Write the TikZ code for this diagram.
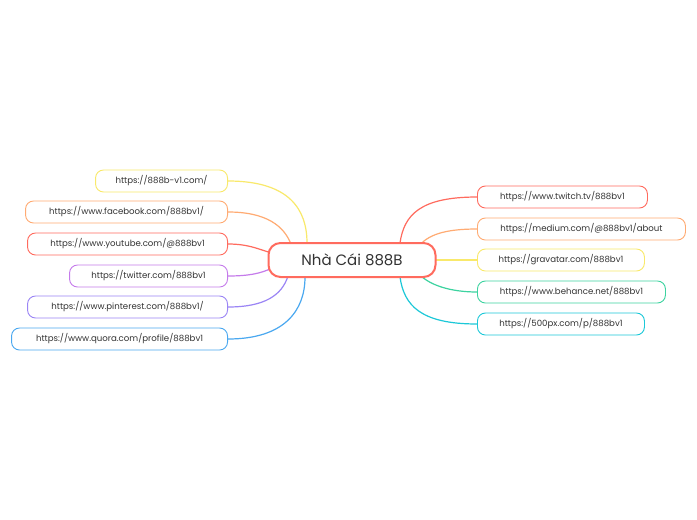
\documentclass[tikz,border=0pt]{standalone}
\usepackage{fontspec}
\setmainfont{Poppins}
\begin{document}
\begin{tikzpicture}[x=1pt,y=-1pt,
  leaf/.style={draw=#1,line width=0.9pt,rounded corners=8pt,minimum height=22pt,inner sep=0pt,font=\fontsize{8.6}{10}\selectfont,text=black!80},
  br/.style={draw=#1,line width=1.2pt},
  ]
\definecolor{cy}{HTML}{F9E96B}\definecolor{co}{HTML}{FFAB73}\definecolor{cr}{HTML}{FF6B5E}
\definecolor{cp}{HTML}{C57BEB}\definecolor{cv}{HTML}{9B85F5}\definecolor{cb}{HTML}{4AA8F0}
\definecolor{cg}{HTML}{3DD3A0}\definecolor{cc}{HTML}{1CC8D8}
\useasboundingbox[fill=white] (0,0) rectangle (697,520);
\coordinate (c) at (352,260);
\draw[br=cy] (228,181) .. controls (290,181) and (307,210) .. (307,243);
\draw[br=co] (228,212) .. controls (265,212) and (285,225) .. (292,247);
\draw[br=cr] (228,244) .. controls (250,244) and (260,250) .. (275,254);
\draw[br=cp] (228,276) .. controls (250,276) and (262,273) .. (272,268);
\draw[br=cv] (228,307) .. controls (265,307) and (282,295) .. (288,276);
\draw[br=cb] (228,339) .. controls (285,339) and (305,310) .. (305,277);
\draw[br=cr] (477,197) .. controls (420,197) and (404,215) .. (400,243);
\draw[br=co] (477,229) .. controls (450,229) and (430,233) .. (420,245);
\draw[br=cy] (477,260) -- (436,260);
\draw[br=cg] (477,292) .. controls (450,292) and (430,285) .. (420,275);
\draw[br=cc] (477,324) .. controls (420,324) and (404,305) .. (400,277);
\node[draw=cr,line width=2pt,rounded corners=12pt,minimum width=167pt,minimum height=34pt,fill=white,font=\fontsize{15}{17}\selectfont,text=black!80] (center) at (c) {Nhà Cái 888B};
\node[leaf=cy,minimum width=132pt,anchor=east,fill=white] (l1) at (228,181) {https://888b-v1.com/};
\node[leaf=co,minimum width=202pt,anchor=east,fill=white] (l2) at (228,212) {https://www.facebook.com/888bv1/};
\node[leaf=cr,minimum width=200pt,anchor=east,fill=white] (l3) at (228,244) {https://www.youtube.com/@888bv1};
\node[leaf=cp,minimum width=158pt,anchor=east,fill=white] (l4) at (228,276) {https://twitter.com/888bv1};
\node[leaf=cv,minimum width=200pt,anchor=east,fill=white] (l5) at (228,307) {https://www.pinterest.com/888bv1/};
\node[leaf=cb,minimum width=216pt,anchor=east,fill=white] (l6) at (228,339) {https://www.quora.com/profile/888bv1};
\node[leaf=cr,minimum width=170pt,anchor=west,fill=white] (r1) at (477,197) {https://www.twitch.tv/888bv1};
\node[leaf=co,minimum width=208pt,anchor=west,fill=white] (r2) at (477,229) {https://medium.com/@888bv1/about};
\node[leaf=cy,minimum width=167pt,anchor=west,fill=white] (r3) at (477,260) {https://gravatar.com/888bv1};
\node[leaf=cg,minimum width=188pt,anchor=west,fill=white] (r4) at (477,292) {https://www.behance.net/888bv1};
\node[leaf=cc,minimum width=167pt,anchor=west,fill=white] (r5) at (477,324) {https://500px.com/p/888bv1};
\end{tikzpicture}
\end{document}
